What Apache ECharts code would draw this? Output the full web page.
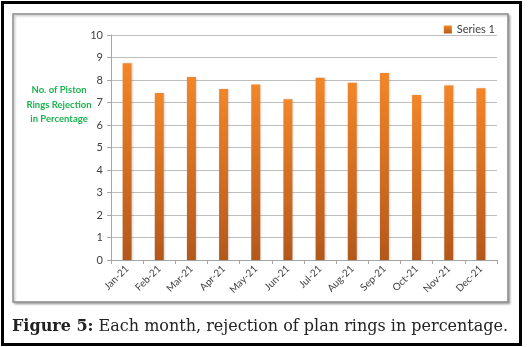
<!DOCTYPE html>
<html>
<head>
<meta charset="utf-8">
<script src="https://cdn.jsdelivr.net/npm/echarts@6/dist/echarts.min.js"></script>
<style>
  html, body { margin: 0; padding: 0; background: #fff; }
  #chart { width: 531px; height: 347px; }
</style>
</head>
<body>
<div id="chart"></div>
<script>
// Datos
const months = ['Jan-21', 'Feb-21', 'Mar-21', 'Apr-21', 'May-21', 'Jun-21',
                'Jul-21', 'Aug-21', 'Sep-21', 'Oct-21', 'Nov-21', 'Dec-21'];
const rejection = [8.74, 7.42, 8.13, 7.6, 7.8, 7.14, 8.1, 7.88, 8.31, 7.33, 7.76, 7.63];
const seriesName = 'Series 1';
const yTitle = 'No. of Piston\nRings Rejection\nin Percentage';
const caption = 'Each month, rejection of plan rings in percentage.';

const chart = echarts.init(document.getElementById('chart'));

const options = {
  backgroundColor: '#fff',
  animation: false,
  graphic: [
    // marco negro exterior
    { type: 'rect', shape: { x: 2.5, y: 2.5, width: 518, height: 342 },
      style: { fill: 'none', stroke: '#000', lineWidth: 3 }, z: -1 },
    // caja gris del gráfico
    { type: 'rect', shape: { x: 13, y: 14, width: 495, height: 288 },
      style: { fill: '#fff', stroke: '#8a8a8a', lineWidth: 1.5,
               shadowColor: 'rgba(0,0,0,0.25)', shadowBlur: 2, shadowOffsetX: 1.5, shadowOffsetY: 1.5 }, z: -1 }
  ],
  title: [
    {
      text: yTitle,
      left: 54, top: 78, textAlign: 'center',
      textStyle: { color: '#1bb34f', fontFamily: 'Lato', fontWeight: 'bold', fontSize: 9.5, lineHeight: 14.5 }
    },
    {
      text: '{b|Figure 5:} ' + caption,
      left: 7, top: 314,
      textStyle: {
        fontFamily: 'DejaVu Serif', fontSize: 16, fontWeight: 'normal', color: '#222',
        rich: { b: { fontFamily: 'DejaVu Serif', fontSize: 16, fontWeight: 'bold', color: '#222' } }
      }
    }
  ],
  legend: {
    right: 31, top: 19,
    icon: 'rect',
    itemWidth: 8, itemHeight: 8, itemGap: 4,
    textStyle: { color: '#404040', fontFamily: 'Lato', fontSize: 11 },
    data: [seriesName]
  },
  grid: { left: 111, right: 34, top: 35, bottom: 87 },
  xAxis: {
    type: 'category',
    data: months,
    axisLine: { lineStyle: { color: '#a6a6a6' } },
    axisTick: { show: true, length: 4, lineStyle: { color: '#a6a6a6' } },
    axisLabel: { rotate: 45, color: '#404040', fontFamily: 'Lato', fontSize: 10, margin: 7 }
  },
  yAxis: {
    type: 'value',
    min: 0, max: 10, interval: 1,
    axisLine: { show: true, lineStyle: { color: '#a6a6a6' } },
    axisTick: { show: true, length: 4, lineStyle: { color: '#a6a6a6' } },
    axisLabel: { color: '#404040', fontFamily: 'Lato', fontSize: 11, margin: 8 },
    splitLine: { lineStyle: { color: '#bfbfbf' } }
  },
  series: [
    {
      name: seriesName,
      type: 'bar',
      data: rejection,
      barWidth: 9,
      itemStyle: {
        color: new echarts.graphic.LinearGradient(0, 0, 0, 1, [
          { offset: 0, color: '#f28628' },
          { offset: 1, color: '#b3581c' }
        ]),
        shadowColor: 'rgba(0,0,0,0.15)', shadowBlur: 2, shadowOffsetX: 1
      }
    }
  ]
};

chart.setOption(options);
</script>
</body>
</html>
